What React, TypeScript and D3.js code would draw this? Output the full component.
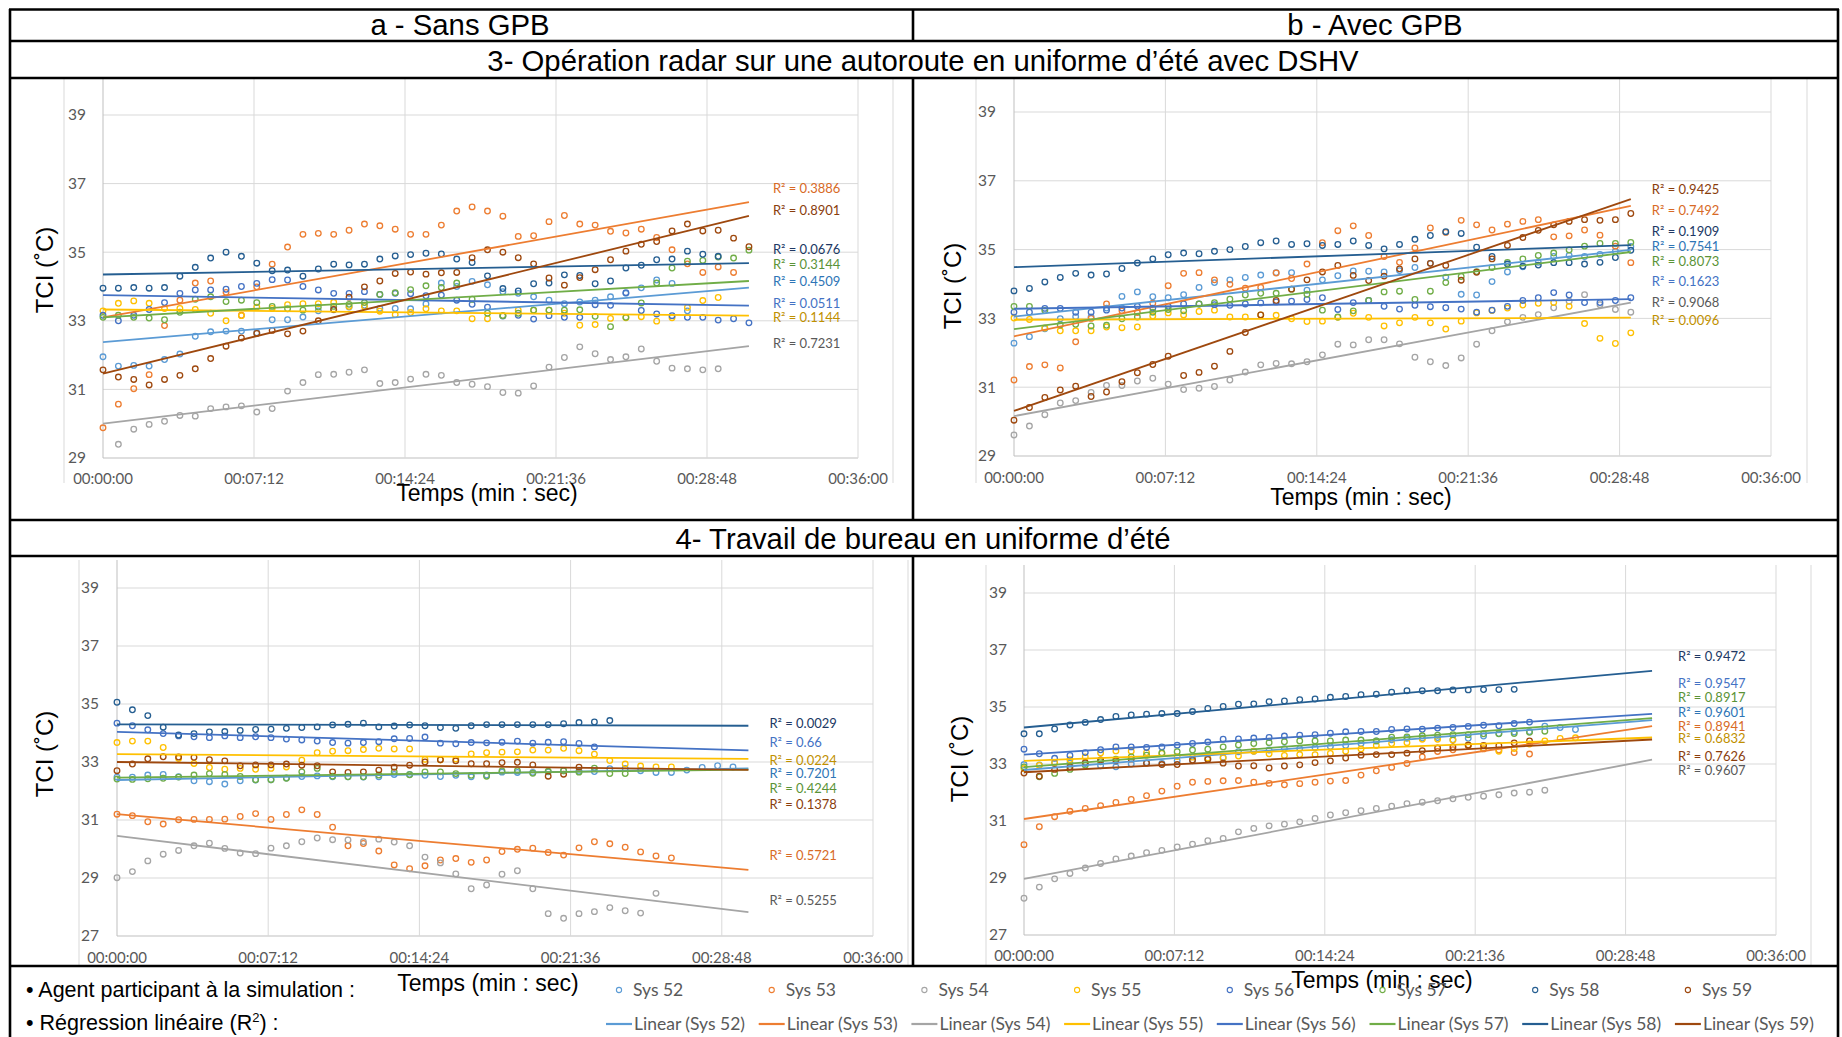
import React from 'react';
import * as d3 from 'd3';

// ---------------- DATA ----------------
const SERIES = ['Sys 52', 'Sys 53', 'Sys 54', 'Sys 55', 'Sys 56', 'Sys 57', 'Sys 58', 'Sys 59'];
const SERIES_COLORS = ['#5B9BD5', '#ED7D31', '#A5A5A5', '#FFC000', '#4472C4', '#70AD47', '#255E91', '#9E480E'];
const LABEL_COLORS = ['#2E75B6', '#D86A26', '#595959', '#BF9000', '#4472C4', '#5B9337', '#203864', '#8A3D0C'];
const SAMPLE_STEP_S = 44; // one reading every 44 s
const X_TICKS_S = [0, 432, 864, 1296, 1728, 2160];
const Y_TICKS_TOP = [29, 31, 33, 35, 37, 39];
const Y_TICKS_BOTTOM = [27, 29, 31, 33, 35, 37, 39];

type V = number | null;

// 3 - a (Sans GPB), series order Sys52..Sys59
const a3Values: V[][] = [
  [31.95,31.68,31.70,31.68,31.87,32.03,32.55,32.68,32.70,32.70,32.65,33.03,33.03,33.11,33.29,33.32,33.40,33.45,33.36,33.36,33.35,33.49,34.10,34.00,34.15,34.05,33.85,33.80,33.70,33.60,33.50,33.55,33.60,33.70,33.80,33.96,34.19,34.09,33.29],
  [29.88,30.57,31.02,31.43,32.86,33.60,34.10,34.16,33.83,33.16,33.99,34.65,35.15,35.52,35.55,35.52,35.64,35.82,35.77,35.67,35.52,35.52,35.79,36.20,36.32,36.20,36.05,35.46,35.48,35.89,36.07,35.82,35.79,35.61,35.56,35.67,35.43,35.07,34.66,34.41,34.57,34.41],
  [null,29.40,29.84,29.98,30.07,30.24,30.22,30.44,30.49,30.52,30.34,30.44,30.95,31.20,31.43,31.44,31.50,31.57,31.17,31.20,31.30,31.44,31.41,31.20,31.15,31.08,30.91,30.89,31.10,31.65,31.93,32.24,32.04,31.87,31.95,32.18,31.82,31.62,31.60,31.57,31.60],
  [33.29,33.51,33.58,33.51,33.36,33.36,33.33,33.22,33.00,33.15,33.40,33.36,33.47,33.50,33.50,33.54,33.42,33.42,33.28,33.18,33.24,33.35,33.29,33.29,33.06,33.06,33.15,33.31,33.31,33.31,33.22,32.87,32.89,33.07,33.09,33.12,32.99,33.09,33.39,33.59,33.68],
  [33.16,33.00,33.16,33.33,33.53,33.80,33.90,33.90,33.92,34.00,34.09,34.20,34.19,34.00,33.90,33.80,33.80,33.85,33.77,33.80,33.79,33.73,33.75,33.60,33.48,33.40,33.14,33.16,33.05,33.15,33.10,33.10,33.47,33.45,33.82,33.30,33.20,33.15,33.10,33.10,33.02,33.06,32.94],
  [33.10,33.16,33.10,33.08,33.03,33.25,33.63,33.70,33.56,33.60,33.53,33.42,33.35,33.31,33.40,33.42,33.48,33.53,33.77,33.82,33.91,34.02,33.97,34.10,33.63,33.22,33.15,33.22,33.31,33.31,33.31,33.32,33.13,32.83,33.10,33.52,34.10,34.54,34.74,34.76,34.86,34.83,35.06],
  [33.95,33.95,33.97,33.95,33.97,34.30,34.56,34.83,35.00,34.88,34.68,34.46,34.48,34.30,34.51,34.65,34.63,34.65,34.80,34.89,34.93,34.97,34.95,34.80,34.70,34.31,33.94,33.87,34.08,34.10,34.34,34.32,34.08,34.16,34.54,34.62,34.78,34.80,35.03,34.94,34.88],
  [31.57,31.36,31.29,31.13,31.29,31.41,31.60,31.90,32.26,32.50,32.63,32.72,32.62,32.70,33.00,33.33,33.69,33.99,34.16,34.38,34.42,34.36,34.40,34.41,34.84,35.07,35.00,34.84,34.66,34.25,34.04,34.26,34.49,34.78,35.03,35.23,35.31,35.62,35.82,35.62,35.64,35.41,35.16],
];
const a3TrendStart = [32.38, 33.10, 30.00, 33.33, 33.75, 33.10, 34.35, 31.46];
const a3TrendEnd = [33.97, 36.46, 32.26, 33.15, 33.44, 34.16, 34.68, 36.06];
const a3R2 = ['0.4509', '0.3886', '0.7231', '0.1144', '0.0511', '0.3144', '0.0676', '0.8901'];
const a3LabelAt = [34.16, 36.87, 32.35, 33.11, 33.52, 34.63, 35.09, 36.23];
const a3LastSample = 42;

// 3 - b (Avec GPB)
const b3Values: V[][] = [
  [32.28,32.47,32.70,32.99,33.05,33.04,33.30,33.64,33.77,33.63,33.60,33.69,33.90,34.04,34.12,34.19,34.26,34.33,34.33,33.82,34.12,34.24,34.38,34.37,34.35,34.39,34.48,34.60,34.20,33.70,33.68,34.07,34.35,34.50,34.63,34.80,34.83,34.80,34.86,34.95,35.09],
  [31.21,31.60,31.65,31.56,32.32,33.00,33.42,33.22,33.17,33.44,33.95,34.31,34.33,34.12,33.99,33.88,33.90,34.32,34.16,34.58,35.20,35.55,35.69,35.41,34.80,34.63,35.05,35.63,35.50,35.85,35.72,35.57,35.74,35.82,35.87,35.37,35.40,35.57,35.42,35.10,34.62],
  [29.61,29.87,30.20,30.54,30.61,30.85,31.05,31.05,31.18,31.26,31.09,30.93,30.97,31.02,31.21,31.44,31.65,31.69,31.68,31.74,31.94,32.25,32.23,32.38,32.38,32.26,31.87,31.74,31.63,31.85,32.25,32.64,32.90,33.03,33.11,33.31,33.50,33.69,33.40,33.26,33.18],
  [33.01,32.97,32.72,32.64,32.64,32.64,32.75,32.73,32.75,33.07,33.16,33.10,33.20,33.24,33.04,33.04,33.10,33.09,32.99,32.91,32.92,33.03,33.15,33.03,32.78,32.87,33.03,32.87,32.69,32.92,33.16,33.23,33.30,33.39,33.44,33.46,33.35,32.85,32.42,32.27,32.58],
  [33.18,33.18,33.29,33.29,33.18,33.18,33.24,33.30,33.35,33.30,33.35,33.42,33.42,33.40,33.38,33.42,33.45,33.48,33.50,33.55,33.60,33.26,33.46,33.52,33.35,33.27,33.38,33.34,33.31,33.27,33.18,33.24,33.35,33.52,33.60,33.75,33.68,33.46,33.46,33.52,33.60],
  [33.35,33.35,33.23,32.81,32.83,32.78,32.80,32.99,33.04,33.18,33.26,33.22,33.42,33.46,33.56,33.68,33.73,33.73,33.85,33.70,33.24,33.04,33.22,33.52,33.77,33.79,33.55,33.79,34.04,34.22,34.36,34.48,34.63,34.73,34.83,34.90,34.99,35.10,35.18,35.18,35.21],
  [33.80,33.87,34.06,34.19,34.31,34.26,34.29,34.45,34.61,34.73,34.85,34.90,34.88,34.95,35.00,35.09,35.20,35.25,35.15,35.17,35.12,35.15,35.25,35.12,35.02,35.15,35.30,35.41,35.52,35.47,35.07,34.80,34.58,34.52,34.55,34.62,34.62,34.58,34.63,34.77,34.98],
  [30.04,30.41,30.70,30.92,31.03,30.73,30.86,31.16,31.42,31.66,31.90,31.34,31.43,31.61,32.04,32.59,33.10,33.52,33.85,34.12,34.35,34.54,34.25,34.10,34.23,34.44,34.73,34.60,34.54,34.11,34.34,34.73,35.12,35.35,35.56,35.72,35.82,35.87,35.85,35.87,36.05],
];
const b3TrendStart = [33.05, 32.48, 30.16, 32.96, 33.28, 32.69, 34.49, 30.31];
const b3TrendEnd = [34.99, 36.27, 33.46, 33.02, 33.56, 34.93, 35.13, 36.47];
const b3R2 = ['0.7541', '0.7492', '0.9068', '0.0096', '0.1623', '0.8073', '0.1909', '0.9425'];
const b3LabelAt = [35.10, 36.15, 33.45, 32.95, 34.06, 34.67, 35.54, 36.76];
const b3LastSample = 40;

// 4 - a (Sans GPB)
const a4Values: V[][] = [
  [32.48,32.48,32.55,32.57,32.49,32.35,32.32,32.24,32.35,32.38,32.39,32.45,32.50,32.52,32.49,32.49,32.48,32.49,32.57,32.57,32.54,32.50,32.54,32.49,32.55,32.65,32.64,32.64,32.66,32.70,32.68,32.67,32.77,32.78,32.70,32.64,32.64,32.72,32.81,32.87,32.83],
  [31.20,31.15,30.94,30.86,31.01,31.02,31.02,31.03,31.12,31.22,31.02,31.19,31.35,31.19,30.75,30.11,30.19,29.93,29.45,29.32,29.42,29.62,29.67,29.54,29.62,29.91,29.99,30.03,29.88,29.79,30.04,30.25,30.18,30.06,29.90,29.76,29.69],
  [29.01,29.22,29.59,29.82,29.95,30.11,30.20,30.02,29.86,29.84,30.03,30.11,30.25,30.38,30.32,30.31,30.25,30.34,30.24,30.11,29.72,29.52,29.14,28.63,28.76,29.13,29.25,28.63,27.77,27.61,27.77,27.84,27.98,27.87,27.79,28.47],
  [33.67,33.72,33.72,33.50,33.12,32.95,32.81,32.75,32.78,32.75,32.78,32.83,33.06,33.32,33.37,33.39,33.43,33.47,33.45,33.45,33.09,33.07,33.10,33.28,33.32,33.34,33.35,33.41,33.41,33.47,33.39,33.27,33.05,32.93,32.86,32.83,32.83],
  [34.34,34.25,34.11,33.98,33.90,33.87,33.84,33.90,33.84,33.87,33.84,33.79,33.76,33.72,33.67,33.65,33.67,33.70,33.80,33.81,33.86,33.65,33.63,33.67,33.66,33.68,33.72,33.65,33.68,33.70,33.64,33.52],
  [32.41,32.40,32.42,32.44,32.48,32.55,32.60,32.57,32.50,32.39,32.39,32.44,32.66,32.78,32.51,32.49,32.49,32.55,32.66,32.56,32.66,32.66,32.60,32.54,32.51,32.69,32.70,32.61,32.68,32.70,32.65,32.79,32.60,32.60],
  [35.06,34.80,34.60,34.20,33.93,33.98,34.04,34.05,34.09,34.12,34.13,34.16,34.19,34.21,34.28,34.30,34.34,34.21,34.24,34.28,34.25,34.19,34.16,34.25,34.29,34.29,34.29,34.29,34.29,34.32,34.36,34.38,34.43],
  [32.70,32.93,33.11,33.18,33.17,33.16,33.08,33.04,32.87,32.90,32.90,32.93,32.89,32.87,32.66,32.64,32.66,32.72,32.82,32.89,33.00,33.08,33.04,32.94,32.94,32.98,32.99,32.90,32.51,32.58,32.82],
];
const a4TrendStart = [32.38, 31.20, 30.45, 33.27, 34.04, 32.46, 34.30, 33.00];
const a4TrendEnd = [32.78, 29.28, 27.82, 33.11, 33.40, 32.74, 34.25, 32.73];
const a4R2 = ['0.7201', '0.5721', '0.5255', '0.0224', '0.66', '0.4244', '0.0029', '0.1378'];
const a4LabelAt = [32.59, 29.79, 28.21, 33.07, 33.66, 32.10, 34.34, 31.52];
const a4LastSample = 41;

// 4 - b (Avec GPB)
const b4Values: V[][] = [
  [32.98,32.97,33.04,33.03,33.02,32.94,32.90,33.00,33.04,33.02,33.11,33.11,33.18,33.23,33.43,33.45,33.49,33.54,33.54,33.57,33.61,33.65,33.72,33.81,33.85,33.90,33.91,33.93,33.85,33.90,33.98,34.07,34.12,34.14,34.33,34.28,34.21],
  [30.17,30.80,31.15,31.34,31.44,31.54,31.65,31.76,31.89,32.05,32.22,32.36,32.39,32.41,32.42,32.36,32.32,32.27,32.31,32.36,32.40,32.42,32.61,32.76,32.88,33.02,33.25,33.44,33.50,33.64,33.53,33.49,33.40,33.35],
  [28.29,28.68,28.97,29.16,29.35,29.51,29.67,29.77,29.89,29.97,30.09,30.19,30.31,30.39,30.62,30.74,30.83,30.89,30.97,31.09,31.21,31.29,31.36,31.44,31.52,31.61,31.66,31.71,31.78,31.83,31.87,31.92,31.98,32.01,32.08],
  [32.84,32.95,33.04,33.15,33.25,33.39,33.46,33.45,33.40,33.37,33.26,33.24,33.21,33.21,33.28,33.45,33.36,33.30,33.33,33.33,33.37,33.45,33.53,33.65,33.72,33.75,33.87,33.87,33.84,33.67,33.54,33.45,33.54,33.70,33.81,33.90,33.92],
  [33.52,33.36,33.20,33.30,33.40,33.50,33.60,33.60,33.58,33.60,33.66,33.72,33.77,33.87,33.88,33.91,33.93,33.98,34.01,34.03,34.08,34.13,34.14,34.14,34.21,34.23,34.22,34.26,34.28,34.32,34.36,34.34,34.42,34.47],
  [32.90,32.55,32.67,32.81,32.96,33.08,33.17,33.25,33.31,33.39,33.43,33.49,33.52,33.60,33.67,33.72,33.75,33.78,33.81,33.81,33.81,33.84,33.84,33.81,33.94,33.95,33.99,34.01,34.03,34.03,34.06,34.06,34.07,34.11,34.15],
  [34.06,34.06,34.23,34.37,34.46,34.56,34.67,34.72,34.75,34.77,34.77,34.84,34.95,35.02,35.10,35.11,35.19,35.21,35.26,35.28,35.34,35.37,35.43,35.45,35.52,35.57,35.57,35.57,35.60,35.60,35.61,35.61,35.62],
  [32.68,32.57,32.81,32.90,33.05,33.14,33.11,33.17,33.03,32.98,32.98,33.14,33.16,33.03,32.93,32.94,32.86,32.93,32.97,33.05,33.11,33.21,33.31,33.33,33.33,33.38,33.47,33.56,33.60,33.66,33.65,33.64,33.74,33.81],
];
const b4TrendStart = [32.79, 31.07, 28.97, 33.11, 33.33, 32.89, 34.28, 32.71];
const b4TrendEnd = [34.54, 34.33, 33.15, 33.93, 34.76, 34.61, 36.27, 33.86];
const b4R2 = ['0.9601', '0.8941', '0.9607', '0.6832', '0.9547', '0.8917', '0.9472', '0.7626'];
const b4LabelAt = [34.82, 34.33, 32.79, 33.88, 35.84, 35.32, 36.79, 33.28];
const b4LastSample = 41;

// ---------------- LAYOUT ----------------
const W = 1842;
const H = 1037;
const ARIAL = "'Liberation Sans', Arial, sans-serif";
const CAL = "Lato, 'Open Sans', sans-serif";
const GRID = '#D9D9D9';
const AXIS_TXT = '#595959';

type Layout = {
  x0: number; x1: number; y39: number; yBottom: number; gridTop: number;
  areaLeft: number; areaRight: number; areaTop: number; areaBottom: number;
  yLabelRight: number; xLabelY: number; yTitleX: number; yTitleY: number;
  xTitleX: number; xTitleY: number; labelDx: number;
};

const layoutA3: Layout = { x0: 103, x1: 858, y39: 115, yBottom: 458, gridTop: 79, areaLeft: 64, areaRight: 893, areaTop: 79, areaBottom: 483, yLabelRight: 86, xLabelY: 479, yTitleX: 45, yTitleY: 270, xTitleX: 487, xTitleY: 501, labelDx: 24 };
const layoutB3: Layout = { x0: 1014, x1: 1771, y39: 112, yBottom: 456, gridTop: 79, areaLeft: 976, areaRight: 1807, areaTop: 79, areaBottom: 483, yLabelRight: 996, xLabelY: 478, yTitleX: 953, yTitleY: 286, xTitleX: 1361, xTitleY: 505, labelDx: 21 };
const layoutA4: Layout = { x0: 117, x1: 873, y39: 588, yBottom: 936, gridTop: 560, areaLeft: 79, areaRight: 908, areaTop: 560, areaBottom: 965, yLabelRight: 99, xLabelY: 958, yTitleX: 45, yTitleY: 754, xTitleX: 488, xTitleY: 991, labelDx: 21 };
const layoutB4: Layout = { x0: 1024, x1: 1776, y39: 593, yBottom: 935, gridTop: 565, areaLeft: 986, areaRight: 1811, areaTop: 565, areaBottom: 965, yLabelRight: 1007, xLabelY: 956, yTitleX: 960, yTitleY: 759, xTitleX: 1382, xTitleY: 988, labelDx: 26 };

const fmtTime = (s: number) =>
  [Math.floor(s / 3600), Math.floor(s / 60) % 60, s % 60].map((v) => String(v).padStart(2, '0')).join(':');

type PanelProps = {
  L: Layout; values: V[][]; trendStart: number[]; trendEnd: number[];
  r2: string[]; labelAt: number[]; lastSample: number; yTicks: number[];
};

function Panel({ L, values, trendStart, trendEnd, r2, labelAt, lastSample, yTicks }: PanelProps) {
  const x = d3.scaleLinear().domain([0, 2160]).range([L.x0, L.x1]);
  const y = d3.scaleLinear().domain([39, yTicks[0]]).range([L.y39, L.yBottom]);
  const endT = lastSample * SAMPLE_STEP_S;
  const line = d3.line<[number, number]>().x((d) => x(d[0])).y((d) => y(d[1]));
  return (
    <g>
      <line x1={L.areaLeft} x2={L.areaLeft} y1={L.areaTop} y2={L.areaBottom} stroke={GRID} strokeWidth={1} />
      <line x1={L.areaRight} x2={L.areaRight} y1={L.areaTop} y2={L.areaBottom} stroke={GRID} strokeWidth={1} />
      {yTicks.map((t, i) => (
        <line key={'h' + t} x1={L.x0} x2={L.x1} y1={y(t)} y2={y(t)} stroke={i === 0 ? '#BFBFBF' : GRID} strokeWidth={1} />
      ))}
      {X_TICKS_S.map((t, i) => (
        <line key={'v' + t} x1={x(t)} x2={x(t)} y1={L.gridTop} y2={y(yTicks[0])} stroke={i === 0 ? '#BFBFBF' : GRID} strokeWidth={1} />
      ))}
      {yTicks.map((t) => (
        <text key={'yl' + t} x={L.yLabelRight} y={y(t)} dy="0.35em" textAnchor="end" fontFamily={CAL} fontSize={15.5} fill={AXIS_TXT}>{t}</text>
      ))}
      {X_TICKS_S.map((t) => (
        <text key={'xl' + t} x={x(t)} y={L.xLabelY} dy="0.35em" textAnchor="middle" fontFamily={CAL} fontSize={15} fill={AXIS_TXT}>{fmtTime(t)}</text>
      ))}
      <text transform={`translate(${L.yTitleX},${L.yTitleY}) rotate(-90)`} textAnchor="middle" dy="0.35em" fontFamily={ARIAL} fontSize={24} fill="#000">TCI (˚C)</text>
      <text x={L.xTitleX} y={L.xTitleY} textAnchor="middle" fontFamily={ARIAL} fontSize={23} fill="#000">Temps (min : sec)</text>
      {values.map((ser, si) => (
        <g key={'s' + si}>
          {ser.map((v, i) => v === null ? null : (
            <circle key={i} cx={x(i * SAMPLE_STEP_S)} cy={y(v)} r={2.8} fill="none" stroke={SERIES_COLORS[si]} strokeWidth={1.3} />
          ))}
        </g>
      ))}
      {trendStart.map((v0, si) => (
        <path key={'t' + si} d={line([[0, v0], [endT, trendEnd[si]]]) || ''} stroke={SERIES_COLORS[si]} strokeWidth={1.8} fill="none" />
      ))}
      {r2.map((r, si) => (
        <text key={'r' + si} x={x(endT) + L.labelDx} y={y(labelAt[si])} dy="0.35em" fontFamily={CAL} fontSize={13} fill={LABEL_COLORS[si]}>{`R² = ${r}`}</text>
      ))}
    </g>
  );
}

function Legend() {
  const step = 152.7;
  return (
    <g>
      <text x={26} y={989} dy="0.35em" fontFamily={ARIAL} fontSize={21.5} fill="#000">•  Agent participant à la simulation :</text>
      <text x={26} y={1022} dy="0.35em" fontFamily={ARIAL} fontSize={21.5} fill="#000">
        •  Régression linéaire (R<tspan dy="-8" fontSize={13}>2</tspan><tspan dy="8">) :</tspan>
      </text>
      {SERIES.map((s, i) => (
        <g key={s}>
          <circle cx={619 + i * step} cy={990} r={2.6} fill="none" stroke={SERIES_COLORS[i]} strokeWidth={1.1} />
          <text x={633 + i * step} y={990} dy="0.35em" fontFamily={CAL} fontSize={17.5} fill={AXIS_TXT}>{s}</text>
          <line x1={606 + i * step} x2={632 + i * step} y1={1024} y2={1024} stroke={SERIES_COLORS[i]} strokeWidth={2.2} />
          <text x={634 + i * step} y={1024} dy="0.35em" fontFamily={CAL} fontSize={17.5} fill={AXIS_TXT}>{`Linear (${s})`}</text>
        </g>
      ))}
    </g>
  );
}

function Table() {
  const sw = 2.6;
  return (
    <g stroke="#000" strokeWidth={sw}>
      <line x1={9} x2={1839} y1={9.5} y2={9.5} />
      <line x1={9} x2={1839} y1={41} y2={41} />
      <line x1={9} x2={1839} y1={78} y2={78} />
      <line x1={9} x2={1839} y1={520} y2={520} />
      <line x1={9} x2={1839} y1={556} y2={556} />
      <line x1={9} x2={1839} y1={966} y2={966} />
      <line x1={10} x2={10} y1={9} y2={H} />
      <line x1={1838} x2={1838} y1={9} y2={H} />
      <line x1={913} x2={913} y1={9} y2={41} />
      <line x1={913} x2={913} y1={78} y2={520} />
      <line x1={913} x2={913} y1={556} y2={966} />
    </g>
  );
}

export default function App() {
  return (
    <div style={{ position: 'absolute', left: 0, top: 0, width: W, height: H, background: '#fff' }}>
      <svg width={W} height={H} viewBox={`0 0 ${W} ${H}`} style={{ display: 'block' }}>
        <rect x={0} y={0} width={W} height={H} fill="#fff" />
        <Panel L={layoutA3} values={a3Values} trendStart={a3TrendStart} trendEnd={a3TrendEnd} r2={a3R2} labelAt={a3LabelAt} lastSample={a3LastSample} yTicks={Y_TICKS_TOP} />
        <Panel L={layoutB3} values={b3Values} trendStart={b3TrendStart} trendEnd={b3TrendEnd} r2={b3R2} labelAt={b3LabelAt} lastSample={b3LastSample} yTicks={Y_TICKS_TOP} />
        <Panel L={layoutA4} values={a4Values} trendStart={a4TrendStart} trendEnd={a4TrendEnd} r2={a4R2} labelAt={a4LabelAt} lastSample={a4LastSample} yTicks={Y_TICKS_BOTTOM} />
        <Panel L={layoutB4} values={b4Values} trendStart={b4TrendStart} trendEnd={b4TrendEnd} r2={b4R2} labelAt={b4LabelAt} lastSample={b4LastSample} yTicks={Y_TICKS_BOTTOM} />
        <Legend />
        <text x={460} y={25} dy="0.35em" textAnchor="middle" fontFamily={ARIAL} fontSize={29.3} fill="#000">a - Sans GPB</text>
        <text x={1375} y={25} dy="0.35em" textAnchor="middle" fontFamily={ARIAL} fontSize={29.3} fill="#000">b - Avec GPB</text>
        <text x={923} y={61} dy="0.35em" textAnchor="middle" fontFamily={ARIAL} fontSize={29.3} fill="#000">3- Opération radar sur une autoroute en uniforme d’été avec DSHV</text>
        <text x={923} y={539} dy="0.35em" textAnchor="middle" fontFamily={ARIAL} fontSize={29.3} fill="#000">4- Travail de bureau en uniforme d’été</text>
        <Table />
      </svg>
    </div>
  );
}
